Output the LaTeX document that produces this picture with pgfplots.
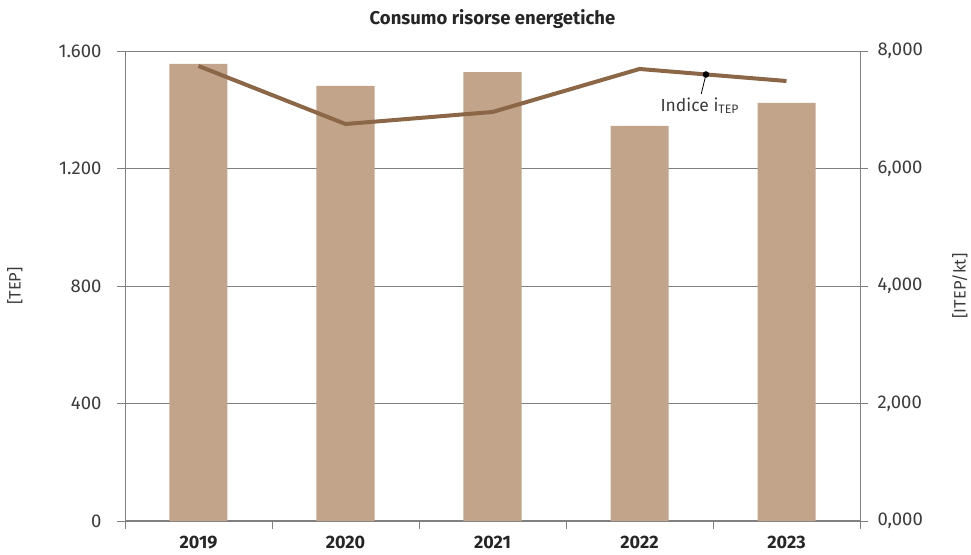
\documentclass[border=0pt]{standalone}
\usepackage{pgfplots}
\pgfplotsset{compat=1.18}
\usepackage{fontspec}
\setmainfont{Fira Sans}

\definecolor{barcol}{HTML}{C1A48A}
\definecolor{linecol}{HTML}{8B6647}
\definecolor{axcol}{HTML}{808080}
\definecolor{txtcol}{HTML}{3C3C3C}

\pgfplotsset{
  base/.style={
    at={(0pt,0pt)}, anchor=south west,
    scale only axis, width=735pt, height=470pt,
    xmin=-0.5, xmax=4.5,
    /pgf/number format/assume math mode=true,
    ticklabel style={font=\fontsize{18.5}{20}\selectfont, text=txtcol},
    label style={font=\fontsize{16.5}{18}\selectfont, text=txtcol},
  }
}

\begin{document}
\begin{tikzpicture}
\useasboundingbox (-125pt,-33pt) rectangle (846pt,521pt);

% bars, left axis
\begin{axis}[
  base,
  ymin=0, ymax=1600,
  axis y line*=left, axis x line*=bottom,
  y axis line style={draw=axcol, line width=0.8pt},
  x axis line style={draw=axcol, line width=2pt},
  ytick={0,400,...,1600},
  minor ytick={0,400,...,1600},
  xtick={0,...,4},
  xticklabels={2019,2020,2021,2022,2023},
  minor xtick={-0.5,0.5,...,4.5},
  major tick length=0pt, minor tick length=8pt,
  tick align=outside,
  tick style={draw=axcol, line width=0.8pt},
  ymajorgrids, major grid style={draw=axcol, line width=0.8pt},
  /pgf/number format/1000 sep={.},
  yticklabel style={xshift=-20pt},
  xticklabel style={yshift=-12pt, font=\fontsize{18}{20}\selectfont\bfseries, text=black!85},
  ylabel={[TEP]},
  ylabel style={at={(axis description cs:-0.15,0.5)}, anchor=center},
  title={Consumo risorse energetiche},
  title style={at={(axis description cs:0.5,1.055)}, anchor=center, font=\fontsize{18.5}{20}\selectfont\bfseries, text=black!85},
]
\addplot[ybar, bar width=58pt, fill=barcol, draw=none] coordinates {
(0,1556) (1,1481) (2,1528) (3,1345) (4,1423)};
\end{axis}

% index line, right axis
\begin{axis}[
  base,
  ymin=0, ymax=8,
  axis y line*=right, axis x line=none,
  y axis line style={draw=axcol, line width=0.8pt},
  ytick={0,2,...,8},
  major tick length=8pt, tick align=outside,
  tick style={draw=axcol, line width=0.8pt},
  yticklabel style={xshift=6pt, /pgf/number format/.cd, fixed, fixed zerofill, precision=3, use comma},
  ylabel={[ITEP/kt]},
  ylabel style={at={(axis description cs:1.136,0.5)}, anchor=center},
]
\addplot[linecol, line width=4pt] coordinates {
(0,7.745) (1,6.757) (2,6.962) (3,7.694) (4,7.489)};
\addplot[only marks, mark=*, mark size=3pt, black] coordinates {(3.452,7.60)};
\draw[black, line width=0.8pt] (axis cs:3.452,7.60) -- (axis cs:3.42,7.27);
\node[text=txtcol, font=\fontsize{17.5}{20}\selectfont] at (axis cs:3.41,7.07) {Indice i\textsubscript{TEP}};
\end{axis}
\end{tikzpicture}
\end{document}
